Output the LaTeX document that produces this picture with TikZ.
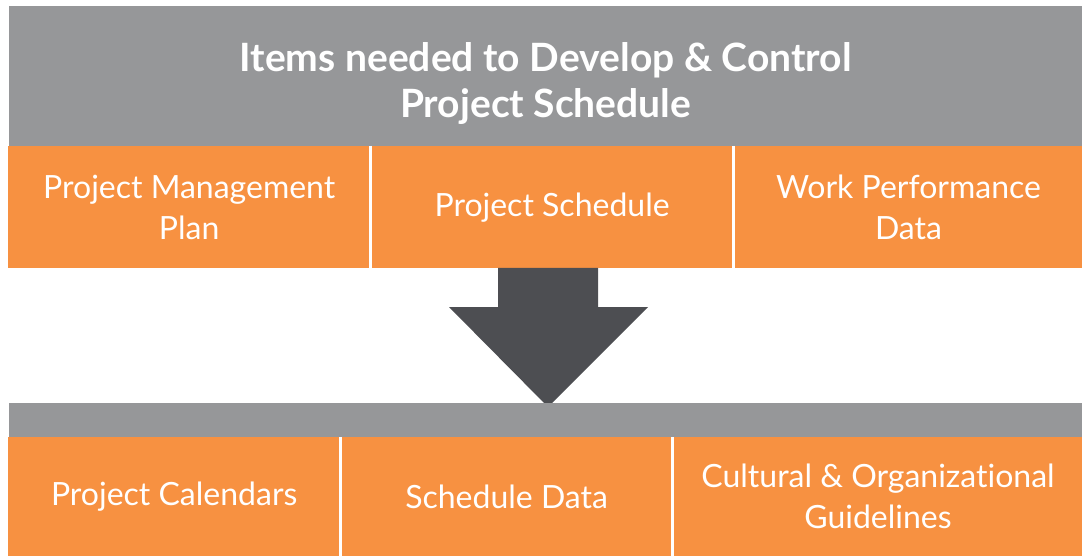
\documentclass[tikz,border=0pt]{standalone}
\usepackage{fontspec}
\setmainfont{Lato}[Ligatures=NoCommon]
\usepackage{tikz}
\usetikzlibrary{positioning}

\definecolor{bargray}{RGB}{150,151,153}
\definecolor{cellorange}{RGB}{247,145,65}
\definecolor{arrowgray}{RGB}{77,78,82}

\begin{document}
\begin{tikzpicture}[x=1pt,y=-1pt,
  bar/.style={fill=bargray,inner sep=0pt,anchor=north west},
  cell/.style={fill=cellorange,text=white,inner sep=0pt,align=center,
    font=\fontsize{32}{41}\selectfont},
  divider/.style={draw=white,line width=3pt}]

  \useasboundingbox (0,0) rectangle (1082,556);

  % header bar
  \node[bar,minimum width=1073pt,minimum height=140pt] (topbar) at (9,6) {};
  \node[text=white,align=center,font=\bfseries\fontsize{39}{46}\selectfont]
    (title) at ([yshift=-7pt]topbar.center) {Items needed to Develop \& Control\\Project Schedule};

  % first row
  \node[cell,minimum width=362pt,minimum height=122pt,anchor=north west] (pmp) at (8,146) {Project Management\\Plan};
  \node[cell,minimum width=363pt,minimum height=122pt,right=0pt of pmp] (ps) {Project Schedule};
  \node[cell,minimum width=349pt,minimum height=122pt,right=0pt of ps] (wpd) {Work Performance\\Data};

  \draw[divider] (pmp.north east) -- (pmp.south east);
  \draw[divider] (ps.north east) -- (ps.south east);

  % arrow
  \fill[arrowgray] (498,268) -- (598,268) -- (598,307) -- (648,307) -- (548,407)
    -- (449,307) -- (498,307) -- cycle;

  % lower bar
  \node[bar,minimum width=1073pt,minimum height=34pt] (lowbar) at (9,403) {};

  % second row
  \node[cell,minimum width=332pt,minimum height=119pt,anchor=north west] (pc) at (8,437) {Project Calendars};
  \node[cell,minimum width=332pt,minimum height=119pt,right=0pt of pc] (sd) {Schedule Data};
  \node[cell,minimum width=410pt,minimum height=119pt,right=0pt of sd] (cog) {Cultural \& Organizational\\Guidelines};

  \draw[divider] (pc.north east) -- (pc.south east);
  \draw[divider] (sd.north east) -- (sd.south east);

\end{tikzpicture}
\end{document}
